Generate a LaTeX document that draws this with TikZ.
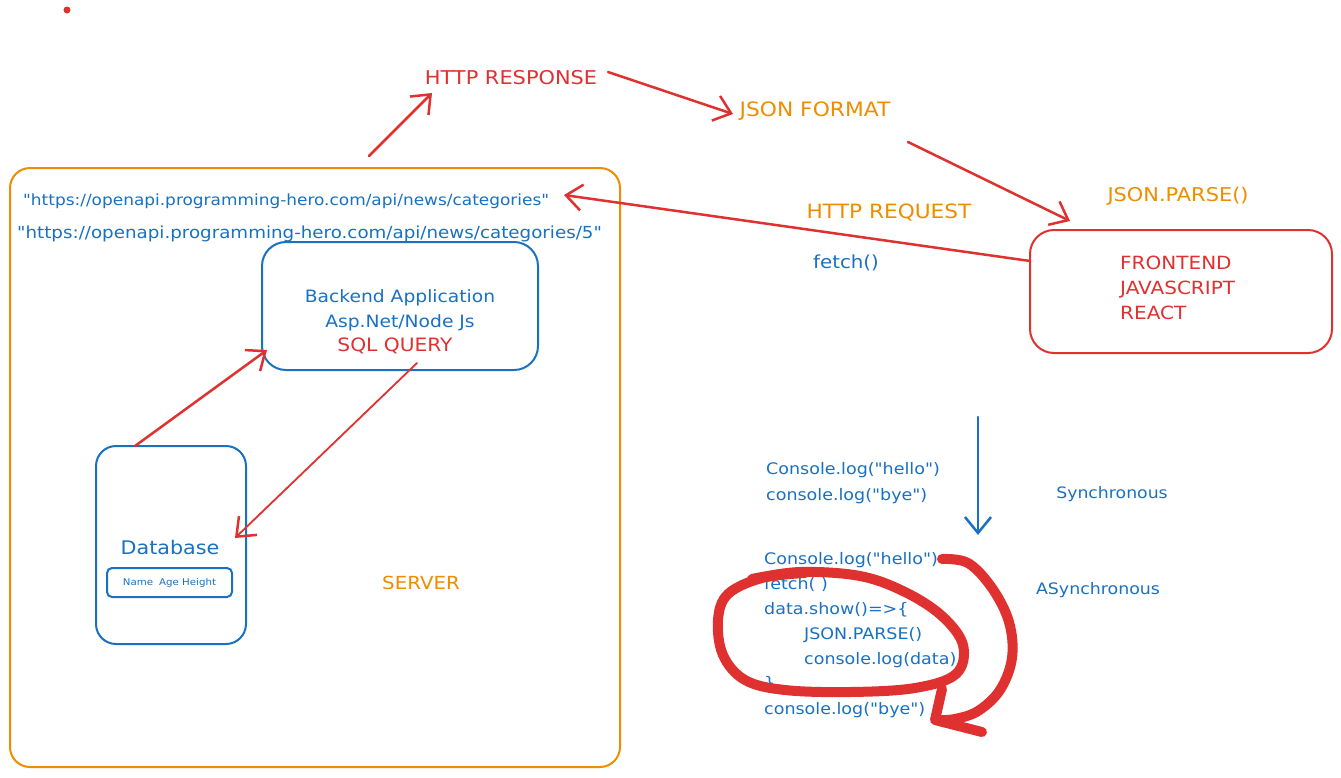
\documentclass[tikz,border=0pt]{standalone}
\usepackage{fontspec}
\setmainfont{DejaVu Sans}[FakeStretch=1.1,Ligatures=TeXOff]
\usetikzlibrary{arrows.meta}
\definecolor{exblue}{HTML}{1971C2}
\definecolor{exred}{HTML}{E03131}
\definecolor{exorange}{HTML}{F08C00}
\newcommand\dq{\symbol{34}}
\begin{document}
\begin{tikzpicture}[x=1pt,y=-1pt,
  lbl/.style={inner sep=0pt,text height=0.73em,text depth=0pt,yshift=-3pt,font=\fontsize{17}{20}\selectfont},
  caps/.style={font=\fontsize{19}{22}\selectfont},
  bl/.style={lbl,text=exblue},
  rd/.style={lbl,caps,text=exred},
  og/.style={lbl,caps,text=exorange},
  code/.style={bl,anchor=west,font=\fontsize{15.9}{18}\selectfont},
  boxshape/.style={line width=2pt,inner sep=0pt},
  rarrow/.style={draw=exred,line width=2.5pt,line cap=round,-{Straight Barb[length=16pt,width=26pt,line width=2.5pt]}},
  barrow/.style={draw=exblue,line width=2.5pt,line cap=round,-{Straight Barb[length=16pt,width=26pt,line width=2.5pt]}},
  scribble/.style={draw=exred,line width=10pt,line cap=round,line join=round}
]
\useasboundingbox (0,0) rectangle (1341,777);
\fill[white] (0,0) rectangle (1341,777);

% red dot
\node[circle,fill=exred,inner sep=0pt,minimum size=7pt] (dot) at (67,10) {};

% server box
\node[boxshape,draw=exorange,rounded corners=20pt,minimum width=610pt,minimum height=599pt] (server) at (315,467.5) {};
\node[og,font=\fontsize{18}{21}\selectfont] (servertxt) at (421,583) {SERVER};

% urls
\node[bl,anchor=west,font=\fontsize{15.4}{18}\selectfont] (url1) at (23,199) {\dq https://openapi.programming-hero.com/api/news/categories\dq};
\node[bl,anchor=west,font=\fontsize{16.6}{19}\selectfont] (url2) at (17,232) {\dq https://openapi.programming-hero.com/api/news/categories/5\dq};

% backend
\node[boxshape,draw=exblue,rounded corners=24pt,minimum width=276pt,minimum height=128pt] (backend) at (400,306) {};
\node[bl] (be1) at (400,296) {Backend Application};
\node[bl] (be2) at (400,321) {Asp.Net/Node Js};
\node[rd,font=\fontsize{18.4}{21}\selectfont] (sql) at (395,345) {SQL QUERY};

% database
\node[boxshape,draw=exblue,rounded corners=20pt,minimum width=150pt,minimum height=198pt] (db) at (171,545) {};
\node[bl,font=\fontsize{18.8}{21}\selectfont] (dbtxt) at (170,548) {Database};
\node[boxshape,draw=exblue,rounded corners=5pt,minimum width=125pt,minimum height=29pt,font=\fontsize{9.3}{11}\selectfont,text=exblue] (table) at (169.5,582.5) {Name\hspace{6pt}Age Height};

% top labels
\node[rd] (resp) at (511,78) {HTTP RESPONSE};
\node[og,font=\fontsize{19.8}{22}\selectfont] (jsonfmt) at (815,110) {JSON FORMAT};
\node[og] (jsonparse) at (1178,195) {JSON.PARSE()};
\node[og,font=\fontsize{19.7}{22}\selectfont] (req) at (889,212) {HTTP REQUEST};
\node[bl,font=\fontsize{18}{21}\selectfont] (fetch) at (846,262) {fetch()};

% frontend
\node[boxshape,draw=exred,rounded corners=24pt,minimum width=302pt,minimum height=123pt] (front) at (1181,291.5) {};
\node[rd,anchor=west,font=\fontsize{18.2}{21}\selectfont] (fe1) at (1120,263) {FRONTEND};
\node[rd,anchor=west,font=\fontsize{18.2}{21}\selectfont] (fe2) at (1120,288) {JAVASCRIPT};
\node[rd,anchor=west,font=\fontsize{18.2}{21}\selectfont] (fe3) at (1120,313) {REACT};

% sync code
\node[code] (s1) at (766,468) {Console.log(\dq hello\dq)};
\node[code] (s2) at (766,494) {console.log(\dq bye\dq)};
\node[bl,font=\fontsize{15.7}{18}\selectfont] (sync) at (1112,492) {Synchronous};
\node[bl,font=\fontsize{15.8}{18}\selectfont] (async) at (1098,588) {ASynchronous};

% async code
\node[code] (c1) at (764,558) {Console.log(\dq hello\dq)};
\node[code] (c2) at (764,583) {fetch( )};
\node[code] (c3) at (764,608) {data.show()=>\{};
\node[code] (c4) at (804,633) {JSON.PARSE()};
\node[code] (c5) at (804,658) {console.log(data)};
\node[code] (c6) at (764,682) {\}};
\node[code] (c7) at (764,708) {console.log(\dq bye\dq)};

% connector end points
\coordinate (p1) at (369,156);
\coordinate (p2) at (432,93);
\coordinate (p3) at (608,72);
\coordinate (p4) at (733,114);
\coordinate (p5) at (908,142);
\coordinate (p6) at (1070,221);
\coordinate (p7) at (1030,261);
\coordinate (p8) at (564,195);
\coordinate (p9) at (135,446);
\coordinate (p10) at (267,350);
\coordinate (p11) at (417,363);
\coordinate (p12) at (235,538);
\coordinate (p13) at (978,417);
\coordinate (p14) at (978,535);

\draw[rarrow] (p1) -- (p2);
\draw[rarrow] (p3) -- (p4);
\draw[rarrow] (p5) -- (p6);
\draw[rarrow] (p7) -- (p8);
\draw[rarrow] (p9) -- (p10);
\draw[rarrow,line width=1.8pt] (p11) -- (p12);
\draw[barrow] (p13) -- (p14);

% red scribble loop
\draw[scribble] plot[smooth,tension=0.6] coordinates {(752,579) (800,572) (860,576) (905,592) (942,616) (963,645) (956,674) (915,688) (850,692) (785,690) (745,680) (723,655) (718,620) (728,594) (762,578) (805,573)};
% red curved arrow
\draw[scribble] plot[smooth,tension=0.6] coordinates {(942,559) (968,563) (992,588) (1009,622) (1012,658) (1000,690) (978,711) (955,719) (940,720)};
\draw[scribble] (942,689) -- (935,720) -- (982,732);
\end{tikzpicture}
\end{document}
